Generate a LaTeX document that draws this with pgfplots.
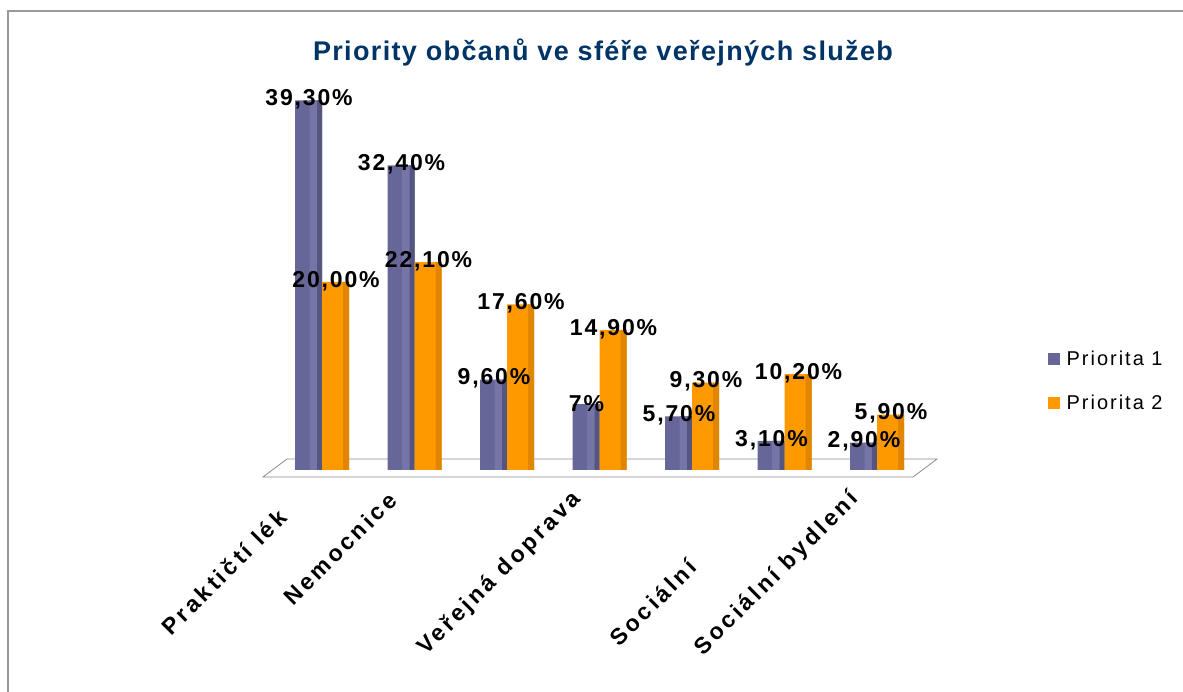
\documentclass[border=0pt]{standalone}
\usepackage{fontspec}
\setmainfont{Liberation Sans}
\newfontfamily\lblfont[LetterSpace=8]{Liberation Sans}
\newfontfamily\tickfont[LetterSpace=14]{Liberation Sans}
\newfontfamily\legfont[LetterSpace=10]{Liberation Sans}
\newfontfamily\titlefont[LetterSpace=5]{Liberation Sans}
\usepackage{pgfplots}
\pgfplotsset{compat=1.18}
\usepackage{pgfplotstable}
\definecolor{pone}{HTML}{666699}
\definecolor{ponel}{HTML}{7575A8}
\definecolor{poned}{HTML}{55557F}
\definecolor{ptwo}{HTML}{FF9900}
\definecolor{ptwol}{HTML}{FFA41C}
\definecolor{ptwod}{HTML}{E08600}
\definecolor{titleblue}{HTML}{003366}

\pgfplotstableread{
x y label
0 39.3 39,30\%
1 32.4 32,40\%
2 9.6 9,60\%
3 7.0 7\%
4 5.7 5,70\%
5 3.1 3,10\%
6 2.9 2,90\%
}\prioone

\pgfplotstableread{
x y label
0 20.0 20,00\%
1 22.1 22,10\%
2 17.6 17,60\%
3 14.9 14,90\%
4 9.3 9,30\%
5 10.2 10,20\%
6 5.9 5,90\%
}\priotwo

\begin{document}
\begin{tikzpicture}
\useasboundingbox (0pt,0pt) rectangle (1183pt,692pt);
\draw[color=black!40, line width=2pt] (8pt,0pt) -- (8pt,681pt) -- (1183pt,681pt);
\node[font=\titlefont\bfseries\fontsize{27}{32}\selectfont, text=titleblue] at (603pt,640pt) {Priority občanů ve sféře veřejných služeb};
% floor
\draw[color=black!45, fill=white, line width=0.8pt] (263pt,215pt) -- (913pt,215pt) -- (937pt,233pt) -- (287pt,233pt) -- cycle;
\begin{axis}[
  at={(263pt,222pt)}, anchor=south west,
  scale only axis, width=650pt, height=410pt,
  xmin=-0.638, xmax=6.389, ymin=0, ymax=43.6,
  axis line style={draw=none}, tick style={draw=none},
  ytick=\empty,
  xtick={0,1,2,3,4,5,6},
  xticklabels={Praktičtí lék\phantom{ař}, Nemocnice, {}, Veřejná doprava, {}, Sociální\phantom{ služby}, Sociální bydlení},
  xticklabel style={xshift=-22pt, yshift=-26pt, rotate=45, anchor=east, inner sep=0pt,
    font=\tickfont\bfseries\fontsize{23}{27}\selectfont},
  legend style={at={(1.203,0.217)}, anchor=west, draw=none, fill=none,
    font=\legfont\fontsize{20}{24}\selectfont, row sep=24pt,
    /tikz/every odd column/.append style={column sep=5pt}},
  legend cell align=left,
  clip=false,
  lbl/.style={nodes near coords, point meta=explicit symbolic,
    nodes near coords style={font=\lblfont\bfseries\fontsize{23}{27}\selectfont, anchor=center, xshift=#1, yshift=1pt, inner sep=0pt, text=black}},
]
% Priorita 1 bars
\addplot[ybar, bar width=27pt, bar shift=-13.5pt, draw=none, fill=pone, forget plot]
  table[x=x, y=y] {\prioone};
\addplot[ybar, bar width=9pt, bar shift=-8pt, draw=none, fill=ponel, forget plot]
  table[x=x, y=y] {\prioone};
\addplot[ybar, bar width=5pt, bar shift=-2.5pt, draw=none, fill=poned, forget plot]
  table[x=x, y=y] {\prioone};
% Priorita 2 bars
\addplot[ybar, bar width=27pt, bar shift=13.5pt, draw=none, fill=ptwo, forget plot]
  table[x=x, y=y] {\priotwo};
\addplot[ybar, bar width=6pt, bar shift=24pt, draw=none, fill=ptwod, forget plot]
  table[x=x, y=y] {\priotwo};
% labels on top
\addplot[only marks, mark=none, lbl=-13pt, forget plot]
  table[x=x, y=y, meta=label] {\prioone};
\addplot[only marks, mark=none, lbl=14pt, forget plot]
  table[x=x, y=y, meta=label] {\priotwo};
\addlegendimage{legend image code/.code={\fill[pone] (0pt,-5.5pt) rectangle (11pt,5.5pt);}}
\addlegendentry{Priorita 1}
\addlegendimage{legend image code/.code={\fill[ptwo] (0pt,-5.5pt) rectangle (11pt,5.5pt);}}
\addlegendentry{Priorita 2}
\end{axis}
\end{tikzpicture}
\end{document}
